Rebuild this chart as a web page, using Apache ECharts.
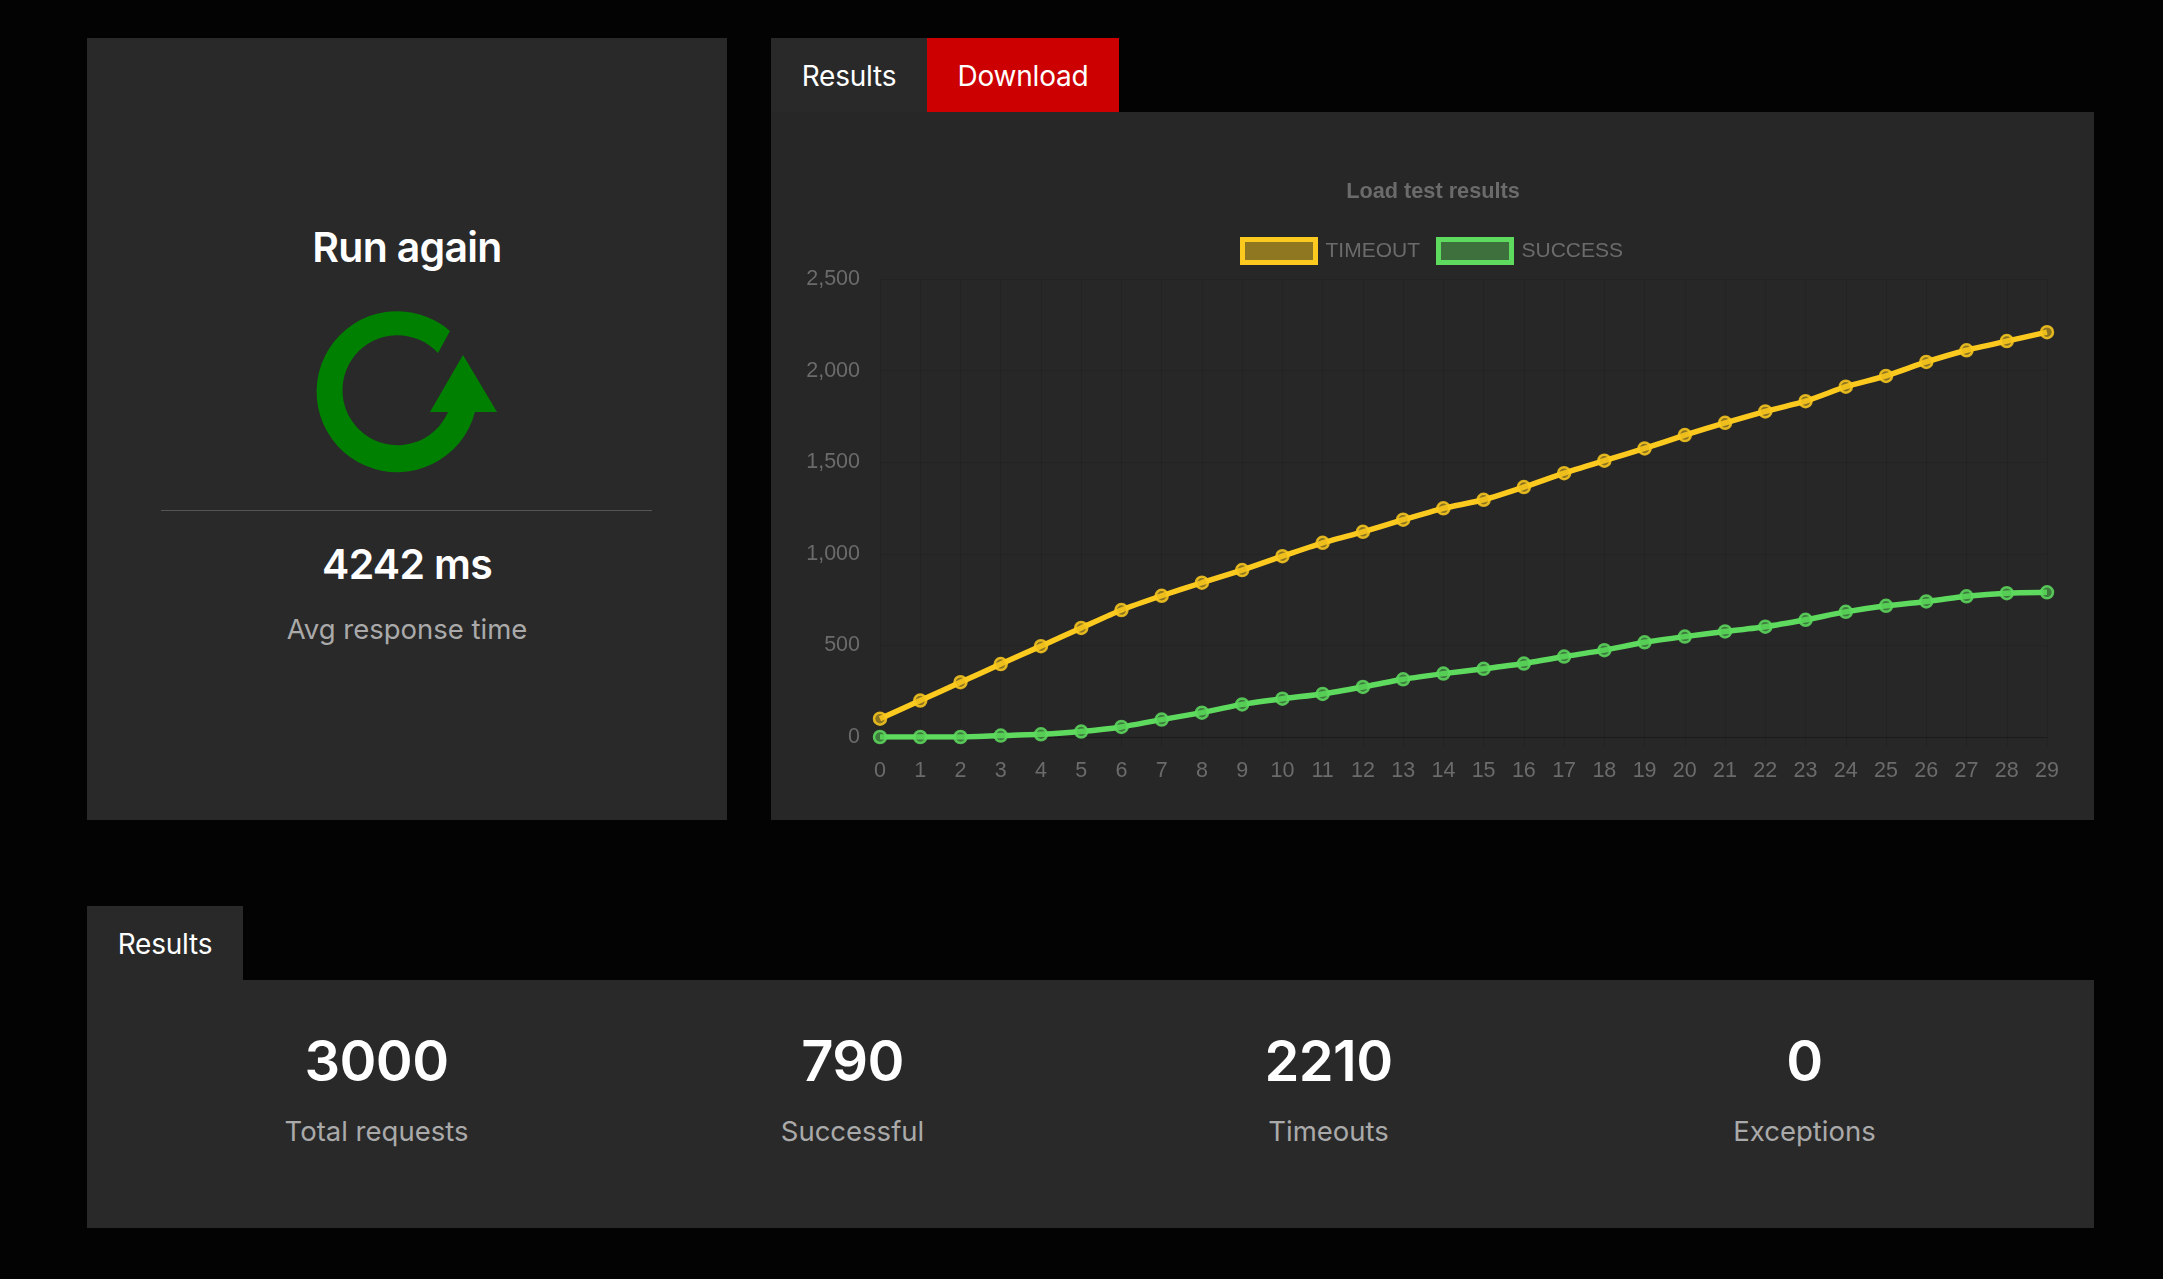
<!DOCTYPE html>
<html>
<head>
<meta charset="utf-8">
<title>Load test results</title>
<script src="https://cdn.jsdelivr.net/npm/echarts@6/dist/echarts.min.js"></script>
<style>
  html, body { margin: 0; padding: 0; background: #030303; overflow: hidden; }
  body { position: relative; width: 2163px; height: 1279px; font-family: Inter, Roboto, sans-serif; color: #fff; }
  .box { position: absolute; background: #292929; }
  .txt { position: absolute; transform: translate(-50%, -50%); white-space: nowrap; }
  .tab { font-size: 28px; font-weight: 400; letter-spacing: -0.2px; }
  .head { font-size: 41px; font-weight: 600; letter-spacing: -0.7px; }
  .big { font-size: 56px; font-weight: 600; letter-spacing: -0.6px; }
  .sub { font-size: 27.5px; color: #aaa; }
  #chart { position: absolute; left: 771px; top: 112px; width: 1323px; height: 708px; background: #272727; }
  svg { position: absolute; left: 0; top: 0; }
</style>
</head>
<body>
<div class="box" style="left:87px;top:38px;width:640px;height:782px"></div>
<div class="txt head" style="left:407px;top:247px">Run again</div>
<svg width="800" height="600">
  <path fill="#008000" d="M450,331 A80.5,80.5 0 1 0 475,412 L497,412 L463,355 L430,412 L448,412 A55,55 0 1 1 438,353 Z"/>
</svg>
<div class="box" style="left:161px;top:510px;width:491px;height:1px;background:#555"></div>
<div class="txt head" style="left:407px;top:564px">4242 ms</div>
<div class="txt sub" style="left:407px;top:629px">Avg response time</div>

<div class="box" style="left:771px;top:38px;width:156px;height:74px"></div>
<div class="box" style="left:927px;top:38px;width:192px;height:74px;background:#cc0000"></div>
<div class="txt tab" style="left:849px;top:76px">Results</div>
<div class="txt tab" style="left:1023px;top:76px">Download</div>
<div id="chart"></div>

<div class="box" style="left:87px;top:906px;width:156px;height:74px"></div>
<div class="txt tab" style="left:165px;top:944px">Results</div>
<div class="box" style="left:87px;top:980px;width:2007px;height:248px"></div>
<div id="stats"></div>

<script>
const categories = ["0","1","2","3","4","5","6","7","8","9","10","11","12","13","14","15","16","17","18","19","20","21","22","23","24","25","26","27","28","29"]
const timeout = [100,199,299,398,496,595,693,771,842,911,987,1060,1120,1186,1248,1295,1364,1440,1508,1575,1648,1715,1777,1833,1912,1971,2047,2111,2161,2210]
const success = [0,0,0,8,15,30,55,95,133,178,209,235,273,315,346,372,401,439,474,517,548,576,602,640,683,716,740,768,785,790]
const statValues = ["3000","790","2210","0"]
const statLabels = ["Total requests","Successful","Timeouts","Exceptions"]
const statCenters = [376.5,852.5,1328.5,1804.5]

const stats = document.getElementById("stats")
statValues.forEach((v, i) => {
  stats.innerHTML += `<div class="txt big" style="left:${statCenters[i]}px;top:1061px">${v}</div>` +
    `<div class="txt sub" style="left:${statCenters[i]}px;top:1131px">${statLabels[i]}</div>`
})

const font = "'Liberation Sans', Arial, sans-serif"
const gridColor = "rgba(0,0,0,0.08)"
const textColor = "#6b6b6b"

function lineSeries(name, data, color, border, fill) {
  return {
    name: name,
    type: "line",
    data: data,
    smooth: 0.2,
    symbol: "circle",
    symbolSize: 12,
    showAllSymbol: true,
    lineStyle: { color: color, width: 5.5 },
    itemStyle: { color: fill, borderColor: border, borderWidth: 2.5 }
  }
}

const chart = echarts.init(document.getElementById("chart"))
chart.setOption({
  animation: false,
  backgroundColor: "#272727",
  title: {
    text: "Load test results",
    left: 657,
    top: 64,
    textAlign: "center",
    textStyle: { color: textColor, fontFamily: font, fontSize: 21.7, fontWeight: "bold" }
  },
  legend: {
    left: 464,
    top: 120,
    icon: "rect",
    itemWidth: 73,
    itemHeight: 23,
    itemGap: 16,
    textStyle: { color: textColor, fontFamily: font, fontSize: 21, padding: [0, 0, 0, 5] },
    data: [
      { name: "TIMEOUT", itemStyle: { color: "rgba(248,197,28,0.5)", borderColor: "#fcca1e", borderWidth: 5 } },
      { name: "SUCCESS", itemStyle: { color: "rgba(92,214,92,0.42)", borderColor: "#5edb5e", borderWidth: 5 } }
    ]
  },
  grid: { left: 109, right: 47, top: 167, bottom: 83 },
  xAxis: {
    type: "category",
    data: categories,
    boundaryGap: false,
    axisLine: { lineStyle: { color: "rgba(0,0,0,0.22)" } },
    axisTick: { alignWithLabel: true, length: 10, lineStyle: { color: gridColor } },
    axisLabel: { color: textColor, fontFamily: font, fontSize: 21.5, margin: 23, interval: 0 },
    splitLine: { show: true, lineStyle: { color: gridColor } }
  },
  yAxis: {
    type: "value",
    min: 0,
    max: 2500,
    interval: 500,
    axisLine: { show: false },
    axisTick: { show: false },
    axisLabel: { color: textColor, fontFamily: font, fontSize: 21.5, margin: 20 },
    splitLine: { lineStyle: { color: gridColor } }
  },
  series: [
    lineSeries("TIMEOUT", timeout, "#fcca1e", "rgba(252,202,30,0.85)", "rgba(225,180,30,0.55)"),
    lineSeries("SUCCESS", success, "#5edb5e", "rgba(94,219,94,0.85)", "rgba(80,195,80,0.55)")
  ]
})
</script>
</body>
</html>
